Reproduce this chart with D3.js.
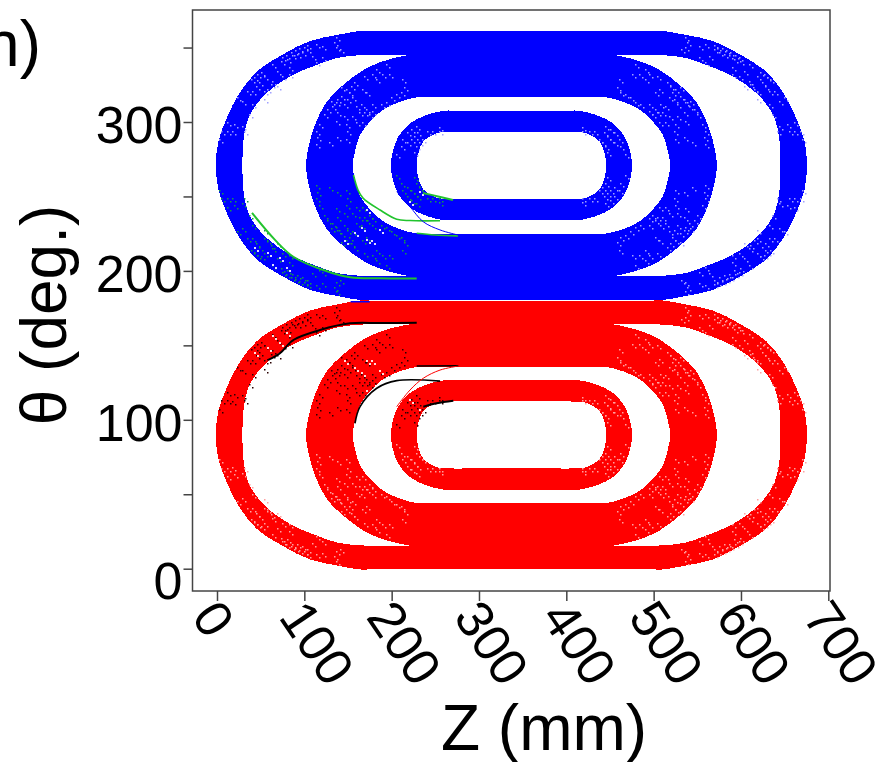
<!DOCTYPE html>
<html><head><meta charset="utf-8">
<script src="https://cdn.jsdelivr.net/npm/d3@7"></script>
<style>html,body{margin:0;padding:0;background:#fff}svg{display:block}text{font-family:"Liberation Sans",Arial,sans-serif;fill:#000}</style>
</head><body><svg id="c" width="884" height="762"></svg>
<script>
// Tick values and labels
const xTicks = [0,100,200,300,400,500,600,700];
const yTicks = [0,50,100,150,200,250,300,350];
const yLabelled = [0,100,200,300];
const panelLabel = "n)", xTitle = "Z (mm)", yTitle = "θ (deg.)";

// One quadrant (low Z, high θ) of each ring edge of the blue family, [Z, θ]
const outerRingOuter = [[190,361.1],[175,361.1],[163.8,361.1],[137.1,358.4],[106.5,354.4],[75.9,345.5],[45.5,333.8],[24.4,318.1],[11.1,302.5],[1.5,286.8],[-1.1,270.8]];
const outerRingInner = [[250,345.3],[230.2,345.3],[200,345.3],[167.2,345],[137.1,343],[114.2,338.3],[91.3,332.9],[68.4,324.9],[49.2,314.8],[35.8,302.5],[30.1,286.8],[29.2,270.8]];
const middleRingOuter = [[260,345.8],[245,345.8],[230.2,345.8],[209.6,343.9],[186.7,340.1],[167.5,334.9],[144.6,324.9],[125.6,313.6],[112.2,298],[104.5,282.3],[101.9,270.8]];
const middleRingInner = [[255,316.5],[240,316.5],[228.7,316.5],[209.6,313.6],[190.1,308.2],[175.2,300.2],[163.8,291.3],[158,280],[155.4,270.8]];
const innerRingOuter = [[285,307.6],[272,307.6],[261.1,307.6],[240.1,304.7],[221,299.1],[207.6,290.1],[201.2,280],[199.2,270.8]];
const innerRingInner = [[295,293.3],[282,293.3],[270.2,293.3],[251.6,292.4],[236.2,286.8],[230.5,279],[228.7,270.8]];
const zCentre = 337.2, thetaCentre = 270.8, redShift = 181;

// Thin trajectories lying over the rings
const greenOuter = [[40.1,238.9],[66.4,220.8],[87.4,209.5],[121.7,200.6],[152.3,195.7],[186.7,195],[228.7,194.9]];
const greenMiddle = [[156.3,264.4],[161.5,254.3],[167.2,248.9],[186.7,240.9],[205.8,234.7],[221,233.8],[255.4,233.7]];
const greenMiddleLow = [[228.7,225.3],[249.6,224.1],[276,223.5]];
const greenInner = [[235.9,252.3],[251.9,250.2],[270.2,247.6]];
const blueCurve = [[205.8,253.2],[221,243.1],[236.2,233],[255.4,227.5],[276,224.1]];
const blackOuter = [[58.7,140.2],[72.1,144.7],[87.4,153.6],[117.9,160.3],[152.3,164.8],[186.7,165],[228.7,165.2]];
const blackMiddle = [[158,97.6],[163.8,108.8],[182.9,121.2],[205.8,126.3],[255.4,126]];
const blackMiddleHigh = [[228.7,136.1],[276.3,136.3]];
const blackInner = [[236.2,108.8],[251.6,111.1],[270.6,112.8]];
const redCurve = [[205.8,108.8],[221,120],[236.2,127.9],[255.4,133.4],[276.3,136.1]];
const blueSliver = [[153,179.3],[175,179.3]];

// Speckle positions, one quadrant (low Z, high θ)
const speckleOuter = [[137,356.1],[135.1,352.8],[137,349.4],[141.6,348.3],[121.8,350.5],[114.1,351.7],[110.3,343.8],[121.8,342.7],[114.1,339.4],[104.6,351.2],[100.8,349.4],[95.1,349],[90.5,347.6],[85.5,346.1],[80.6,344.5],[76,342.7],[104.6,348.3],[98.9,346.1],[93.2,345],[87.4,344.5],[81.7,341.6],[74.1,340.5],[83.6,336],[70.2,333.8],[76,330.4],[64.5,338.2],[51.2,332.6],[47.3,331.5],[43.5,329.3],[39.7,328.2],[55,330.4],[49.3,325.9],[45.4,323.7],[64.5,327],[62.6,324.8],[58.8,321.4],[55,320.3],[41.6,320.3],[35.9,320.3],[70.2,323.7],[83.6,331.5],[30.2,313.6],[24.4,315.8],[41.6,311.4],[55,314.7],[37.8,304.6],[13,299.1],[20.6,297.9],[30.2,296.8],[13,293.4],[18.7,293],[5.4,293.4],[3.5,287.9],[32.1,293.4]];
const speckleMiddle = [[194.3,338.2],[198.1,331.5],[190.5,331.5],[182.9,334.9],[179,331.5],[169.5,330.4],[158,325.9],[154.2,323.7],[213.4,328.2],[215.3,322.6],[211.5,319.2],[205.8,318.1],[200,315.8],[194.3,312.5],[188.6,311.4],[182.9,328.2],[167.6,321.4],[171.4,319.2],[148.5,321.4],[142.8,322.6],[142.8,317],[139,314.7],[152.3,319.2],[156.1,315.8],[150.4,314.7],[146.6,311.4],[137,312.5],[131.3,313.6],[133.2,310.2],[127.5,308],[123.7,304.6],[160,310.2],[165.7,311.4],[171.4,308],[175.2,304.6],[179,306.9],[169.5,305.8],[163.8,305.8],[179,311.4],[156.1,303.5],[146.6,303.5],[139,305.8],[137,300.2],[148.5,297.9],[160,299.1],[167.6,299.1],[150.4,293.4],[118,297.9],[114.1,293.4],[116.1,289],[129.4,285.6],[139,289],[148.5,287.9],[114.1,284.5]];
const speckleInner = [[228.7,296.8],[222.9,294.6],[219.1,292.3],[213.4,287.9],[230.6,292.3],[226.7,290.1],[222.9,287.9],[219.1,285.6],[236.3,287.9],[232.5,285.6],[228.7,283.4],[242,293.4],[247.7,293.4],[255.4,295.7],[255.4,293.4],[211.5,283.4],[205.8,277.8],[226.7,278.9]];
const whiteSpots = [[43.5,215.2],[58.8,211.8],[72.2,208.4],[79.8,201.7],[64.5,204],[146.6,220.3],[158,225.2],[165.7,228.6],[171.4,220.8],[177.1,220.3],[186.7,227.5],[171.4,240.9],[221,246.5],[232.5,253.2]];

const svg = d3.select("#c");
const L = 192.5, R = 830, T = 10, B = 591;
const x = d3.scaleLinear().domain([0,700]).range([217,828.3]);
const y = d3.scaleLinear().domain([0,300]).range([568.7,122]);

const closed = d3.line().x(d=>x(d[0])).y(d=>y(d[1])).curve(d3.curveCatmullRomClosed.alpha(0.5));
const open = d3.line().x(d=>x(d[0])).y(d=>y(d[1])).curve(d3.curveCatmullRom.alpha(0.5));

function contour(q, shift){
  const mz = z => 2*zCentre - z, mt = t => 2*thetaCentre - t;
  const a = q;
  const b = q.slice(0,-1).reverse().map(p=>[p[0], mt(p[1])]);
  const c = q.map(p=>[mz(p[0]), mt(p[1])]);
  const e = q.slice(0,-1).reverse().map(p=>[mz(p[0]), p[1]]);
  return a.concat(b,c,e).map(p=>[p[0], p[1]-shift]);
}
function ring(outer, inner, colour, shift){
  svg.append("path").attr("d", closed(contour(outer,shift))+closed(contour(inner,shift)))
    .attr("fill",colour).attr("fill-rule","evenodd").attr("shape-rendering","crispEdges");
}
const speckles = speckleOuter.concat(speckleMiddle, speckleInner);
function dots(pts, colour, size){
  const g = svg.append("g").attr("fill",colour);
  [[0,0],[3,3]].forEach(o=>{
    g.append("g").selectAll("rect").data(pts).join("rect")
      .attr("x",d=>Math.round(x(d[0]))+o[0]-1).attr("y",d=>Math.round(y(d[1]))+o[1]-1)
      .attr("width",size).attr("height",size);
  });
}
function family(colour, light, shift, ulColour, llColour, darkSize){
  ring(outerRingOuter, outerRingInner, colour, shift);
  ring(middleRingOuter, middleRingInner, colour, shift);
  ring(innerRingOuter, innerRingInner, colour, shift);
  const mz = z => 2*zCentre - z, mt = t => 2*thetaCentre - t;
  dots(speckles.map(p=>[p[0],p[1]-shift]), ulColour, shift ? darkSize : 1.5);
  dots(speckles.map(p=>[mz(p[0]),p[1]-shift]), light, 1.5);
  dots(speckles.map(p=>[p[0],mt(p[1])-shift]), llColour, shift ? 1.5 : darkSize);
  dots(speckles.map(p=>[mz(p[0]),mt(p[1])-shift]), light, 1.5);
}
family("#ff0000","#ffa0a0",redShift,"#2a0000","#ffa0a0",1.5);
family("#0000ff","#a0a0ff",0,"#a0a0ff","#129a4a",1.5);
dots(whiteSpots,"#dcdcff",2);
dots(whiteSpots.map(p=>[p[0],360-p[1]]),"#ffdcdc",2);

function curve(pts, colour, w){
  svg.append("path").attr("d",open(pts)).attr("fill","none").attr("stroke",colour).attr("stroke-width",w);
}
curve(greenOuter,"#22c32e",2); curve(greenMiddle,"#22c32e",1.6); curve(greenMiddleLow,"#22c32e",1.6); curve(greenInner,"#22c32e",2);
curve(blueCurve,"#0000ff",1);
curve(blackOuter,"#000",2); curve(blackMiddle,"#000",1.6); curve(blackMiddleHigh,"#000",1.6); curve(blackInner,"#000",2);
curve(redCurve,"#ff0000",1);
curve(blueSliver,"#0000ff",1.5);

// frame
svg.append("rect").attr("x",L).attr("y",T).attr("width",R-L).attr("height",B-T).attr("fill","none").attr("stroke","#444").attr("stroke-width",1.5);

// axes
const ax = svg.append("g").attr("transform",`translate(0,${B})`)
  .call(d3.axisBottom(x).tickValues(xTicks).tickSize(10).tickSizeOuter(0).tickPadding(0));
ax.select(".domain").remove();
ax.selectAll(".tick line").attr("stroke","#444").attr("stroke-width",1.5);
ax.selectAll(".tick text").attr("font-size",52).attr("text-anchor","start").attr("dy",0).attr("y",0)
  .attr("transform","translate(-27,26) rotate(56)").attr("style","font-family:'Liberation Sans'");
const ay = svg.append("g").attr("transform",`translate(${L},0)`)
  .call(d3.axisLeft(y).tickValues(yTicks).tickSize(9).tickSizeOuter(0).tickPadding(1)
    .tickFormat(d=>yLabelled.includes(d)?d:""));
ay.select(".domain").remove();
ay.selectAll(".tick line").attr("stroke","#444").attr("stroke-width",1.5);
ay.selectAll(".tick text").attr("font-size",52).attr("dy",d=>d===0?"0.57em":"0.39em").attr("style","font-family:'Liberation Sans'");

svg.append("text").attr("x",41).attr("y",66).attr("text-anchor","end").attr("font-size",64).text(panelLabel);
svg.append("text").attr("x",544).attr("y",750).attr("text-anchor","middle").attr("font-size",64).text(xTitle);
svg.append("text").attr("transform","translate(66,315) rotate(-90)").attr("text-anchor","middle").attr("font-size",64).text(yTitle);
</script></body></html>
